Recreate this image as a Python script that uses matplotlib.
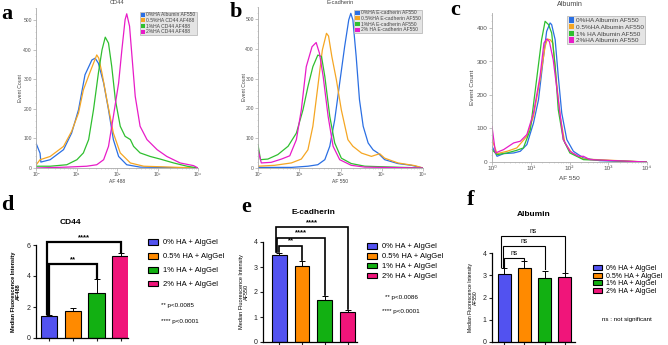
import matplotlib
matplotlib.use('Agg')
import matplotlib.pyplot as plt
from matplotlib.patches import Patch
from matplotlib.ticker import LogLocator, MultipleLocator, NullFormatter, FuncFormatter
import numpy as np

W, H = 668, 345
plt.rcParams['font.family'] = ['Liberation Sans', 'DejaVu Sans']

hist_colors = ['#2b6fe3', '#f5a623', '#2fbf2f', '#e81cc8']
bar_colors = ['#5252f0', '#ff8a00', '#12b012', '#f0157a']
groups = ['0% HA + AlgGel', '0.5% HA + AlgGel', '1% HA + AlgGel', '2% HA + AlgGel']

# ---- flow histograms, x stored as log10(intensity) ----
cd44_labels = ['0%HA Albumin AF550', '0.5%HA CD44 AF488', '1%HA CD44 AF488', '2%HA CD44 AF488']
cd44_x0 = [0, 0.10, 0.12, 0.35, 0.68, 0.88, 1.05, 1.21, 1.38, 1.46, 1.54, 1.67, 1.79, 1.91, 2.04, 2.24, 2.57, 4.0]
cd44_y0 = [84, 50, 20, 28, 62, 118, 197, 315, 365, 371, 354, 287, 197, 96, 39, 11, 3, 0]
cd44_x1 = [0, 0.10, 0.35, 0.68, 0.88, 1.05, 1.17, 1.34, 1.50, 1.55, 1.63, 1.75, 1.91, 2.08, 2.33, 2.66, 4.0]
cd44_y1 = [10, 28, 39, 73, 124, 186, 264, 326, 382, 371, 320, 230, 118, 51, 17, 6, 0]
cd44_x2 = [0, 0.35, 0.76, 1.01, 1.17, 1.30, 1.42, 1.54, 1.63, 1.71, 1.79, 1.87, 1.96, 2.08, 2.20, 2.33, 2.41,
           2.57, 2.82, 3.07, 3.40, 3.73, 4.0]
cd44_y2 = [6, 6, 11, 28, 51, 96, 197, 320, 399, 442, 422, 343, 230, 141, 107, 96, 73, 51, 39, 30, 17, 6, 0]
cd44_x3 = [0, 0.76, 1.25, 1.50, 1.67, 1.79, 1.91, 2.04, 2.12, 2.20, 2.24, 2.31, 2.37, 2.45, 2.57, 2.74, 2.99,
           3.23, 3.56, 3.89, 4.0]
cd44_y3 = [0, 3, 6, 11, 28, 73, 174, 287, 399, 501, 521, 479, 377, 242, 141, 96, 62, 39, 17, 8, 0]

ecad_labels = ['0%HA E-cadherin AF550', '0.5%HA E-cadherin AF550', '1%HA E-cadherin AF550', '2% HA E-cadherin AF550']
ecad_x0 = [0, 0.81, 1.21, 1.45, 1.62, 1.74, 1.86, 1.98, 2.10, 2.20, 2.25, 2.30, 2.38, 2.46, 2.55, 2.67, 2.79,
           2.91, 3.07, 3.39, 3.72, 4.0]
ecad_y0 = [2, 2, 6, 11, 28, 73, 162, 285, 407, 497, 519, 497, 374, 229, 140, 84, 61, 50, 28, 15, 9, 0]
ecad_x1 = [0, 0.40, 0.81, 1.05, 1.21, 1.33, 1.45, 1.56, 1.66, 1.71, 1.79, 1.90, 2.02, 2.18, 2.30, 2.51, 2.75,
           2.95, 3.07, 3.39, 3.80, 4.0]
ecad_y1 = [6, 9, 17, 30, 61, 140, 273, 396, 452, 443, 374, 296, 195, 95, 73, 50, 39, 48, 33, 17, 8, 0]
ecad_x2 = [0, 0.06, 0.24, 0.48, 0.73, 0.93, 1.09, 1.21, 1.33, 1.45, 1.54, 1.62, 1.74, 1.86, 2.02, 2.26, 2.59, 4.0]
ecad_y2 = [78, 28, 30, 45, 73, 117, 195, 273, 340, 379, 374, 307, 173, 84, 33, 15, 6, 0]
ecad_x3 = [0, 0.08, 0.32, 0.57, 0.77, 0.93, 1.05, 1.17, 1.31, 1.41, 1.49, 1.58, 1.70, 1.82, 1.98, 2.26, 2.59, 4.0]
ecad_y3 = [61, 17, 19, 30, 41, 95, 195, 340, 407, 421, 385, 307, 173, 73, 28, 9, 3, 0]

alb_labels = ['0%HA Albumin AF550', '0.5%HA Albumin AF550', '1% HA Albumin AF550', '2%HA Albumin AF550']
alb_x0 = [0, 0.13, 0.30, 0.56, 0.73, 0.90, 1.07, 1.20, 1.33, 1.41, 1.50, 1.54, 1.63, 1.71, 1.80, 1.93, 2.10,
          2.36, 2.78, 4.0]
alb_y0 = [47, 17, 25, 27, 32, 52, 116, 186, 315, 390, 415, 410, 365, 256, 146, 67, 32, 12, 4, 0]
alb_x1 = [0, 0.13, 0.39, 0.64, 0.90, 1.07, 1.24, 1.37, 1.43, 1.50, 1.57, 1.65, 1.76, 1.88, 2.06, 2.36, 4.0]
alb_y1 = [67, 25, 32, 42, 77, 136, 246, 345, 367, 365, 355, 256, 136, 57, 27, 9, 0]
alb_x2 = [0, 0.13, 0.39, 0.64, 0.81, 0.99, 1.14, 1.28, 1.37, 1.46, 1.54, 1.63, 1.71, 1.84, 2.01, 2.36, 4.0]
alb_y2 = [37, 22, 27, 35, 42, 97, 236, 365, 420, 410, 385, 286, 156, 67, 27, 7, 0]
alb_x3 = [0, 0.09, 0.30, 0.56, 0.73, 0.90, 1.07, 1.24, 1.34, 1.41, 1.48, 1.58, 1.71, 1.84, 2.01, 2.23, 2.36,
          2.53, 4.0]
alb_y3 = [106, 27, 37, 57, 62, 82, 146, 256, 355, 367, 360, 305, 186, 67, 32, 17, 17, 7, 0]

# ---- median fluorescence intensity bars ----
cd44_mean = [1.40, 1.74, 2.90, 5.27]
cd44_err = [0.10, 0.17, 0.90, 0.21]
cd44_sig = [(0, 2, 4.77, '**'), (0, 3, 6.2, '****')]
cd44_p = ['** p<0.0085', '**** p<0.0001']

ecad_mean = [3.47, 3.04, 1.67, 1.19]
ecad_err = [0.09, 0.20, 0.17, 0.10]
ecad_sig = [(0, 1, 3.85, '**'), (0, 2, 4.17, '****'), (0, 3, 4.6, '****')]
ecad_p = ['** p<0.0086', '**** p<0.0001']

alb_mean = [3.06, 3.31, 2.87, 2.94]
alb_err = [0.27, 0.32, 0.34, 0.16]
alb_sig = [(0, 1, 3.77, 'ns'), (0, 2, 4.3, 'ns'), (0, 3, 4.75, 'ns')]
alb_p = ['ns : not significant']

SUP = str.maketrans('0123456789', '⁰¹²³⁴⁵⁶⁷⁸⁹')

fig = plt.figure(figsize=(W / 100, H / 100), dpi=100)


def px_axes(l, t, r, b):
    return fig.add_axes([l / W, 1 - b / H, (r - l) / W, (b - t) / H])


def ftext(x, y, s, **kw):
    return fig.text(x / W, 1 - y / H, s, **kw)


def pow_label(v, pos):
    return '10' + str(int(round(np.log10(v)))).translate(SUP)


def hist_panel(l, r, b, ppu, ytop, xs, ys, labels, title, xlabel, leg, fs, tx):
    t = b - ytop * ppu
    ax = px_axes(l, t, r, b)
    for x, y, c in zip(xs, ys, hist_colors):
        ax.plot(10 ** np.array(x), y, color=c, lw=0.9)
    ax.set_xscale('log')
    ax.set_xlim(1, 1e4)
    ax.set_ylim(0, ytop)
    ax.xaxis.set_major_locator(LogLocator(base=10, numticks=10))
    ax.xaxis.set_major_formatter(FuncFormatter(pow_label))
    ax.xaxis.set_minor_locator(LogLocator(base=10, subs=np.arange(2, 10), numticks=10))
    ax.xaxis.set_minor_formatter(NullFormatter())
    ax.yaxis.set_major_locator(MultipleLocator(100))
    ax.yaxis.set_minor_locator(MultipleLocator(20))
    for s in ['top', 'right']:
        ax.spines[s].set_visible(False)
    for s in ['left', 'bottom']:
        ax.spines[s].set_color('#aaaaaa')
        ax.spines[s].set_linewidth(0.6)
    ax.tick_params(which='major', labelsize=fs, colors='#aaaaaa', labelcolor='#555555', length=2, width=0.5, pad=1)
    ax.tick_params(which='minor', colors='#bbbbbb', length=1, width=0.4)
    handles = [Patch(facecolor=c, edgecolor='none') for c in hist_colors]
    lg = ax.legend(handles, labels, loc='upper right', bbox_to_anchor=(leg[0] / W, 1 - leg[1] / H),
                   bbox_transform=fig.transFigure, fontsize=fs, frameon=True, fancybox=False,
                   facecolor='#e4e4e4', edgecolor='#b0b0b0', framealpha=1, borderpad=0.2,
                   labelspacing=0.12, handlelength=0.9, handleheight=0.9, handletextpad=0.2)
    lg.get_frame().set_linewidth(0.5)
    for txt in lg.get_texts():
        txt.set_color('#444444')
    ftext((l + r) / 2, tx[0], title, ha='center', va='center', fontsize=fs + 0.5, color='#444444')
    ftext((l + r) / 2, tx[1], xlabel, ha='center', va='center', fontsize=fs, color='#444444')
    ftext(tx[2], (t + b) / 2, 'Event Count', ha='center', va='center', rotation=90, fontsize=fs, color='#444444')
    return ax


hist_panel(36, 198, 168, 0.296, 540,
           [cd44_x0, cd44_x1, cd44_x2, cd44_x3], [cd44_y0, cd44_y1, cd44_y2, cd44_y3],
           cd44_labels, 'CD44', 'AF 488', (199, 9), 3.6, (3, 181, 21))
hist_panel(258, 423, 168, 0.298, 540,
           [ecad_x0, ecad_x1, ecad_x2, ecad_x3], [ecad_y0, ecad_y1, ecad_y2, ecad_y3],
           ecad_labels, 'E-cadherin', 'AF 550', (424, 7), 3.6, (3, 181, 244))
hist_panel(492, 647, 162, 0.335, 445,
           [alb_x0, alb_x1, alb_x2, alb_x3], [alb_y0, alb_y1, alb_y2, alb_y3],
           alb_labels, 'Albumin', 'AF 550', (648, 13), 4.6, (5, 178, 473))


def bar_panel(l, r, b, ppu, ytop, xlo, xhi, width, mean, err, sig, ptexts, title, ylab, ybold,
              blw, leg, lsp, pt_pos, title_pos, ylab_x, yfs):
    t = b - ytop * ppu
    ax = px_axes(l, t, r, b)
    xs = np.arange(len(mean))
    bars = ax.bar(xs, mean, width=width, color=bar_colors, edgecolor='black', linewidth=0.8, zorder=2)
    ax.errorbar(xs, mean, yerr=[np.zeros(len(err)), err], fmt='none', ecolor='black', elinewidth=0.7,
                capsize=2.5, capthick=0.7, zorder=1)
    ax.set_xlim(xlo, xhi)
    ax.set_ylim(0, ytop)
    ax.set_xticks(xs)
    ax.set_xticklabels([])
    ax.yaxis.set_major_locator(MultipleLocator(2 if ytop > 5 else 1))
    for s in ['top', 'right']:
        ax.spines[s].set_visible(False)
    for s in ['left', 'bottom']:
        ax.spines[s].set_linewidth(0.9)
    ax.tick_params(labelsize=5, length=2.5, width=0.8, pad=1.5, colors='#222222')
    for k, (i, j, y, lab) in enumerate(sig):
        xl = i - 0.07 * k
        yl = mean[i] + err[i] + 0.05
        yr = mean[j] + err[j] + 0.05
        ax.plot([xl, xl, j, j], [yl, y, y, yr], color='black', lw=blw, clip_on=False,
                solid_joinstyle='miter')
        ax.annotate(lab, xy=((xl + j) / 2, y), xytext=(0, 0.8), textcoords='offset points',
                    ha='center', va='bottom', fontsize=5.5 if lab != 'ns' else 4.8,
                    fontweight='bold' if lab != 'ns' else 'normal', annotation_clip=False)
    ax.legend(bars, groups, loc='upper left', bbox_to_anchor=(leg[0] / W, 1 - leg[1] / H),
              bbox_transform=fig.transFigure, frameon=False, fontsize=leg[2], borderpad=0, borderaxespad=0,
              labelspacing=lsp, handlelength=1.3, handleheight=0.75, handletextpad=0.6)
    for s, (x, y) in zip(ptexts, pt_pos):
        ftext(x, y, s, ha='left', va='center', fontsize=4.5)
    ftext(title_pos[0], title_pos[1], title, ha='center', va='center', fontsize=6, fontweight='bold')
    ftext(ylab_x, (t + b) / 2, ylab, ha='center', va='center', rotation=90, fontsize=yfs,
          fontweight='bold' if ybold else 'normal', linespacing=1.1)
    return ax


bar_panel(36, 128, 338, 15.5, 6, -0.54, 3.3, 0.7, cd44_mean, cd44_err, cd44_sig, cd44_p, 'CD44',
          'Median Fluorescence Intensity\nAF488', True, 1.6, (148, 239, 5.5), 0.85,
          [(161, 306), (161, 321)], (70, 223), 16, 4.0)
bar_panel(263, 357, 342, 25, 4, -0.7, 3.4, 0.65, ecad_mean, ecad_err, ecad_sig, ecad_p, 'E-cadherin',
          'Median Fluorescence Intensity\nAF550', False, 1.2, (367, 243, 5.5), 0.32,
          [(385, 298), (382, 312)], (313, 213), 244, 4.0)
bar_panel(492, 575, 342, 22.25, 4, -0.6, 3.5, 0.64, alb_mean, alb_err, alb_sig, alb_p, 'Albumin',
          'Median Fluorescence Intensity\nAF550', False, 0.8, (593, 265, 5.0), 0.08,
          [(602, 320)], (534, 214), 473, 3.6)

# panel letters
for s, (x, y) in zip('abcdef', [(7, 14), (236, 12), (455, 10), (7, 205), (246, 207), (471, 200)]):
    ftext(x, y, s, ha='center', va='center', fontsize=16, fontweight='bold', family='Liberation Serif')

fig.savefig('out.png', dpi=100)
